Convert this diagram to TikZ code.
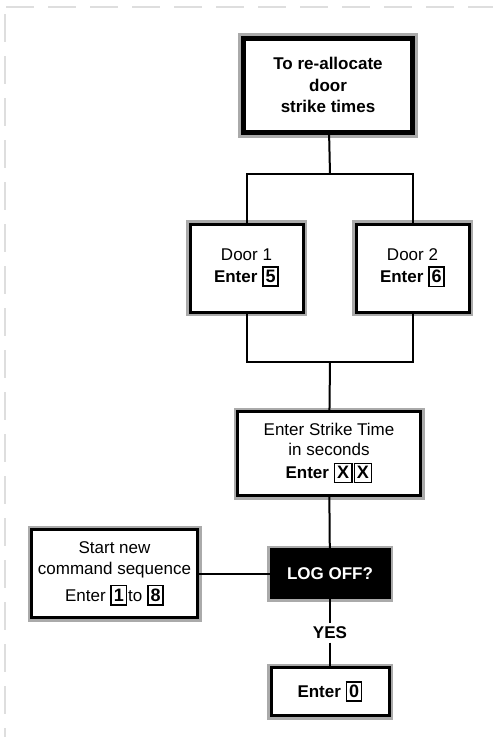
\documentclass[tikz,border=0pt]{standalone}
\usepackage{fontspec}
\setmainfont{Liberation Sans}
\usepackage{tikz}
\usetikzlibrary{positioning}
\definecolor{FrameGray}{RGB}{170,170,170}
\definecolor{DashGray}{RGB}{222,222,222}
\setlength{\fboxrule}{1.6pt}
\setlength{\fboxsep}{1.8pt}
\newcommand{\keycap}[1]{\fbox{\fontsize{18}{21}\selectfont\textbf{\rule[-1pt]{0pt}{14pt}#1}}}

\begin{document}
\begin{tikzpicture}[
 x=1pt, y=-1pt,
 panel/.style={draw=black, line width=3pt, fill=white, align=center, inner sep=2pt,
   preaction={draw=FrameGray, line width=8pt}},
 title/.style={panel, line width=5pt, preaction={draw=FrameGray, line width=11pt}, font=\fontsize{17}{21.5}\selectfont\bfseries},
 query/.style={panel, fill=black, text=white, font=\fontsize{17}{21}\selectfont\bfseries},
 link/.style={line width=2pt},
 font=\fontsize{17}{21}\selectfont
]
\useasboundingbox (0,0) rectangle (493,737);
\draw[DashGray, line width=2pt, dash pattern=on 28pt off 14pt] (6,7) -- (493,7);
\draw[DashGray, line width=2pt, dash pattern=on 28pt off 14pt] (5,14) -- (5,737);

\node[title] (top)    at (328,85)    [minimum width=169, minimum height=94] {To re-allocate\\door\\strike times};
\node[panel] (door1)  at (246.5,268) [minimum width=113, minimum height=88] {Door 1\\[1pt]\textbf{Enter} \keycap{5}};
\node[panel] (door2)  at (412.5,268) [minimum width=113, minimum height=88] {Door 2\\[1pt]\textbf{Enter} \keycap{6}};
\node[panel] (strike) at (329,453.5) [minimum width=183, minimum height=84] {Enter Strike Time\\[-1pt]in seconds\\[2pt]\textbf{Enter} \keycap{X}\hspace{1pt}\keycap{X}};
\node[query] (logoff) at (330,573.5) [minimum width=118, minimum height=48] {LOG OFF?};
\node[panel] (restart) at (114.5,573.5) [minimum width=166, minimum height=88] {Start new\\command sequence\\[6pt]Enter \keycap{1}\hspace{1pt}to \keycap{8}};
\node[panel] (quit)   at (330,691.5) [minimum width=118, minimum height=48] {\textbf{Enter} \keycap{0}};
\node[font=\fontsize{17}{21}\selectfont\bfseries] (yes) at (330,633) {YES};

\coordinate (split) at (330,174);
\coordinate (merge) at (330,362);

\draw[link] (top) -- (split);
\draw[link] (door1.north) |- (split) -| (door2.north);
\draw[link] (door1.south) |- (merge) -| (door2.south);
\draw[link] (merge) -- (strike);
\draw[link] (strike) -- (logoff);
\draw[link] (restart) -- (logoff);
\draw[link] (logoff) -- (yes);
\draw[link] (yes) -- (quit);
\end{tikzpicture}
\end{document}
